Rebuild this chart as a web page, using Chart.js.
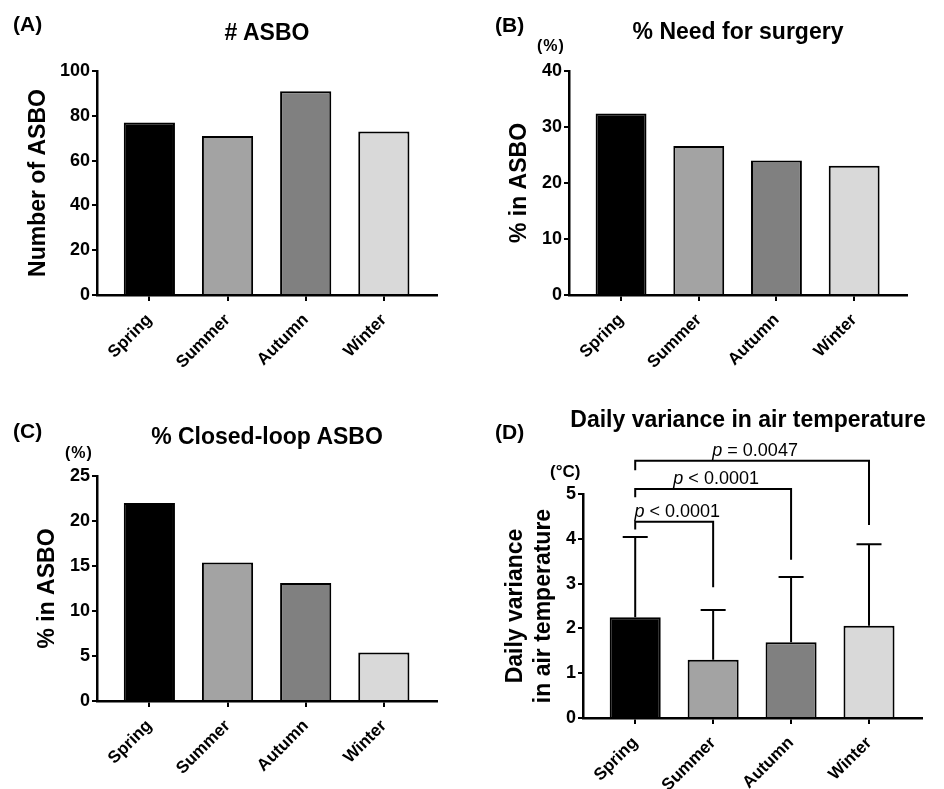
<!DOCTYPE html>
<html>
<head>
<meta charset="utf-8">
<script src="https://cdn.jsdelivr.net/npm/chart.js@4.4.1/dist/chart.umd.min.js"></script>
<style>
  body { margin: 0; background: #fff; width: 944px; height: 789px; position: relative; overflow: hidden;
         font-family: "Liberation Sans", Arial, Helvetica, sans-serif; color: #000; }
  canvas { position: absolute; }
  .lbl { position: absolute; font-weight: bold; white-space: nowrap; line-height: 30px; height: 30px; }
  .ttl { font-size: 23px; text-align: center; width: 400px; }
</style>
</head>
<body>
<canvas id="chartA" width="470" height="390" style="left:0;top:0"></canvas>
<canvas id="chartB" width="474" height="390" style="left:470px;top:0"></canvas>
<canvas id="chartC" width="470" height="399" style="left:0;top:390px"></canvas>
<canvas id="chartD" width="474" height="399" style="left:470px;top:390px"></canvas>

<div class="lbl" style="left:13px;top:9px;font-size:21px">(A)</div>
<div class="lbl ttl" style="left:67px;top:17px"># ASBO</div>
<div class="lbl" style="left:495px;top:10px;font-size:21px">(B)</div>
<div class="lbl ttl" style="left:538px;top:16px">% Need for surgery</div>
<div class="lbl" style="left:537px;top:31px;font-size:16px;letter-spacing:1px">(%)</div>
<div class="lbl" style="left:13px;top:416px;font-size:21px">(C)</div>
<div class="lbl ttl" style="left:67px;top:421px">% Closed-loop ASBO</div>
<div class="lbl" style="left:65px;top:438px;font-size:16px;letter-spacing:1px">(%)</div>
<div class="lbl" style="left:495px;top:417px;font-size:21px">(D)</div>
<div class="lbl ttl" style="left:548px;top:404px">Daily variance in air temperature</div>
<div class="lbl" style="left:550px;top:457px;font-size:17px">(°C)</div>

<script>
// values
const seasons = ['Spring', 'Summer', 'Autumn', 'Winter'];
const asboCount = [77, 71, 91, 73];
const surgeryPct = [32.4, 26.6, 24.0, 23.1];
const closedLoopPct = [22.0, 15.4, 13.1, 5.4];
const tempVariance = [2.25, 1.30, 1.69, 2.06];
const tempSD = [1.79, 1.11, 1.46, 1.82];
// pairwise tests vs Spring: bracket height and leg ends in degC
const comparisons = [
  { from: 0, to: 1, y: 4.38, fromEnd: 4.21, toEnd: 2.92, text: '< 0.0001' },
  { from: 0, to: 2, y: 5.11, fromEnd: 4.93, toEnd: 3.53, text: '< 0.0001' },
  { from: 0, to: 3, y: 5.74, fromEnd: 5.53, toEnd: 4.31, text: '= 0.0047' }
];

const FONT = '"Liberation Sans", Arial, Helvetica, sans-serif';
const barFills = ['#000000', '#a3a3a3', '#808080', '#d9d9d9'];

const errorBars = {
  id: 'errorBars',
  afterDatasetsDraw(chart) {
    const { ctx, scales: { x, y } } = chart;
    ctx.save();
    ctx.strokeStyle = '#000';
    ctx.lineWidth = 2;
    tempVariance.forEach((v, i) => {
      const px = x.getPixelForValue(i);
      const top = y.getPixelForValue(v + tempSD[i]);
      ctx.beginPath();
      ctx.moveTo(px, y.getPixelForValue(v));
      ctx.lineTo(px, top);
      ctx.moveTo(px - 12.5, top);
      ctx.lineTo(px + 12.5, top);
      ctx.stroke();
    });
    comparisons.forEach(c => {
      const xa = x.getPixelForValue(c.from), xb = x.getPixelForValue(c.to);
      const yh = y.getPixelForValue(c.y);
      ctx.beginPath();
      ctx.moveTo(xa, y.getPixelForValue(c.fromEnd));
      ctx.lineTo(xa, yh);
      ctx.lineTo(xb, yh);
      ctx.lineTo(xb, y.getPixelForValue(c.toEnd));
      ctx.stroke();
      ctx.fillStyle = '#000';
      ctx.textBaseline = 'alphabetic';
      ctx.textAlign = 'left';
      ctx.font = 'italic 18px ' + FONT;
      const pw = ctx.measureText('p').width;
      ctx.font = '18px ' + FONT;
      const rest = ' ' + c.text;
      const rw = ctx.measureText(rest).width;
      const start = (xa + xb) / 2 - (pw + rw) / 2 + 3;
      ctx.font = 'italic 18px ' + FONT;
      ctx.fillText('p', start, yh - 5);
      ctx.font = '18px ' + FONT;
      ctx.fillText(rest, start + pw, yh - 5);
    });
    ctx.restore();
  }
};

function barPanel(canvasId, values, cfg) {
  const ctx = document.getElementById(canvasId).getContext('2d');
  return new Chart(ctx, {
    type: 'bar',
    data: {
      datasets: [{
        data: values.map((v, i) => ({ x: i, y: v })),
        backgroundColor: barFills,
        borderColor: '#000',
        borderWidth: 2,
        borderSkipped: 'start',
        categoryPercentage: 1,
        barPercentage: 0.655
      }]
    },
    options: {
      responsive: false,
      animation: false,
      layout: { padding: { top: cfg.top, right: cfg.right, bottom: 0, left: 0 } },
      plugins: { legend: { display: false }, tooltip: { enabled: false } },
      scales: {
        x: {
          type: 'linear', min: -0.67, max: 3.68, offset: false,
          afterBuildTicks: s => { s.ticks = seasons.map((_, i) => ({ value: i })); },
          afterFit: s => { s.height = cfg.xh; },
          grid: { drawOnChartArea: false, offset: false, tickLength: 6, lineWidth: 2, color: '#000' },
          border: { color: '#000', width: 2.5 },
          ticks: {
            autoSkip: false, minRotation: 45, maxRotation: 45, padding: 9, color: '#000',
            font: { family: FONT, size: 17, weight: 'bold' },
            callback: v => seasons[v]
          }
        },
        y: {
          min: 0, max: cfg.max,
          afterFit: s => { s.width = cfg.yw; },
          grid: { drawOnChartArea: false, tickLength: 5, lineWidth: 2, color: '#000' },
          border: { color: '#000', width: 2.5 },
          ticks: {
            stepSize: cfg.step, padding: 2, color: '#000',
            font: { family: FONT, size: 18, weight: 'bold' }
          },
          title: {
            display: true, text: cfg.title, color: '#000',
            padding: { top: cfg.titlePad, bottom: 0 },
            font: { family: FONT, size: 23, weight: 'bold', lineHeight: 1.25 }
          }
        }
      }
    },
    plugins: cfg.plugins || []
  });
}

barPanel('chartA', asboCount, { top: 71, right: 33, xh: 95, yw: 97, max: 100, step: 20, title: 'Number of ASBO', titlePad: 24 });
barPanel('chartB', surgeryPct, { top: 71, right: 37, xh: 95, yw: 99, max: 40, step: 10, title: '% in ASBO', titlePad: 35 });
barPanel('chartC', closedLoopPct, { top: 86, right: 33, xh: 88, yw: 97, max: 25, step: 5, title: '% in ASBO', titlePad: 33 });
barPanel('chartD', tempVariance, { top: 104, right: 22, xh: 71, yw: 113, max: 5, step: 1,
  title: ['Daily variance', 'in air temperature'], titlePad: 31, plugins: [errorBars] });
</script>
</body>
</html>
